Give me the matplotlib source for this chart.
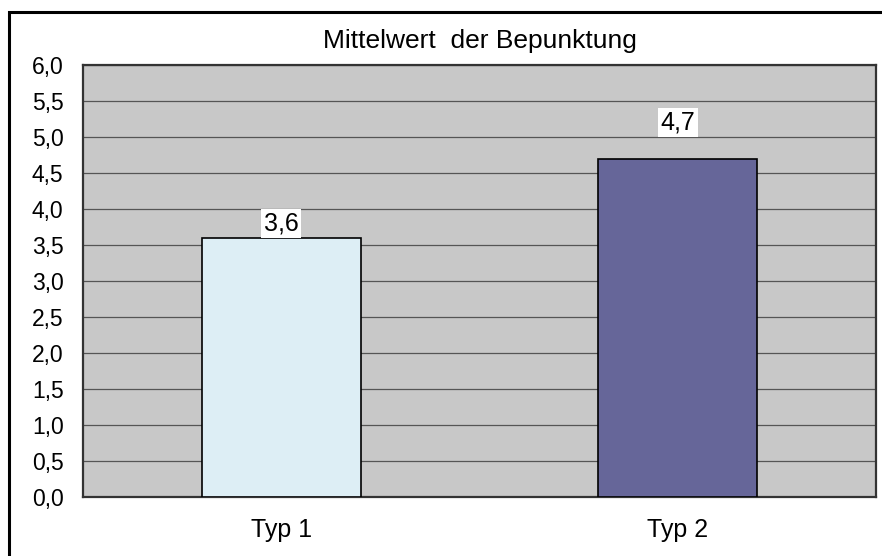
import matplotlib
matplotlib.use("Agg")
import matplotlib.pyplot as plt
from matplotlib.patches import Rectangle

plt.rcParams['font.family'] = ['Liberation Sans', 'DejaVu Sans']

categories = ["Typ 1", "Typ 2"]
values = [3.6, 4.7]
value_labels = ["3,6", "4,7"]
bar_colors = ["#DDEEF5", "#666699"]
yticks = [0.0, 0.5, 1.0, 1.5, 2.0, 2.5, 3.0, 3.5, 4.0, 4.5, 5.0, 5.5, 6.0]
ytick_labels = ["0,0", "0,5", "1,0", "1,5", "2,0", "2,5", "3,0", "3,5", "4,0", "4,5", "5,0", "5,5", "6,0"]
title = "Mittelwert  der Bepunktung"
label_offsets_px = [2.5, 24]

W, H = 882, 556
fig = plt.figure(figsize=(W / 100, H / 100), dpi=100)
fig.patch.set_facecolor("white")
ax = fig.add_axes([83 / W, 1 - 497 / H, (876 - 83) / W, (497 - 65) / H])
ax.set_facecolor("#C8C8C8")

x = list(range(len(categories)))
ax.bar(x, values, width=0.4, color=bar_colors, edgecolor="black", linewidth=1.2, zorder=3)
ax.set_xlim(-0.5, len(categories) - 0.5)
ax.set_ylim(0, 6)
ax.set_yticks(yticks)
ax.set_yticklabels(ytick_labels, fontsize=16.5)
ax.set_xticks(x)
ax.set_xticklabels(categories, fontsize=18)
ax.tick_params(axis="y", length=0, pad=14)
ax.tick_params(axis="x", length=0, pad=15)
ax.yaxis.grid(True, color="#555555", linewidth=0.9, zorder=1)
ax.set_axisbelow(True)
for s in ax.spines.values():
    s.set_color("#333333")
    s.set_linewidth(1.6)

for xi, v, lab, off in zip(x, values, value_labels, label_offsets_px):
    ax.annotate(lab, (xi, v), xytext=(0, off * 72 / 100), textcoords="offset points",
                ha="center", va="bottom", fontsize=18, zorder=5,
                bbox=dict(boxstyle="square,pad=0.1", facecolor="white", edgecolor="none"))

fig.text(479.5 / W, 1 - 48 / H, title, ha="center", va="baseline", fontsize=19)

border = Rectangle((9 / W, -0.5), 2, 1.5 - 12 / H, transform=fig.transFigure,
                   fill=False, edgecolor="black", linewidth=2.2, clip_on=False)
fig.patches.append(border)

fig.savefig("out.png", dpi=100)
